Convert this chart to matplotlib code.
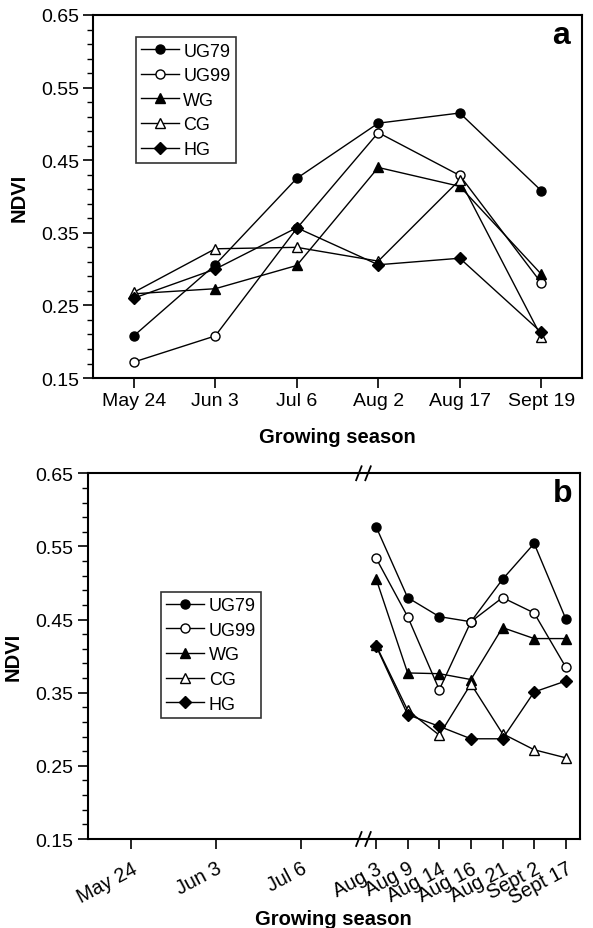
import matplotlib
matplotlib.use('Agg')
import matplotlib.pyplot as plt
from matplotlib.ticker import FixedLocator
import numpy as np

plt.rcParams['font.family'] = ['Liberation Sans', 'DejaVu Sans']

# panel a: six sampling dates
dates_a = ['May 24', 'Jun 3', 'Jul 6', 'Aug 2', 'Aug 17', 'Sept 19']
ug79_a = [0.208, 0.306, 0.425, 0.501, 0.515, 0.408]
ug99_a = [0.172, 0.208, 0.356, 0.488, 0.429, 0.281]
wg_a = [0.266, 0.273, 0.305, 0.440, 0.414, 0.293]
cg_a = [0.268, 0.328, 0.330, 0.311, 0.423, 0.207]
hg_a = [0.260, 0.300, 0.357, 0.306, 0.315, 0.213]

# panel b: early dates have no data, then seven dates after the break
dates_b_early = ['May 24', 'Jun 3', 'Jul 6']
dates_b = ['Aug 3', 'Aug 9', 'Aug 14', 'Aug 16', 'Aug 21', 'Sept 2', 'Sept 17']
ug79_b = [0.577, 0.480, 0.454, 0.447, 0.505, 0.554, 0.451]
ug99_b = [0.534, 0.454, 0.354, 0.447, 0.480, 0.459, 0.385]
wg_b = [0.506, 0.377, 0.376, 0.368, 0.439, 0.424, 0.424]
cg_b = [0.415, 0.326, 0.292, 0.362, 0.294, 0.272, 0.261]
hg_b = [0.414, 0.320, 0.304, 0.287, 0.287, 0.351, 0.366]

labels = ['UG79', 'UG99', 'WG', 'CG', 'HG']
styles = [dict(marker='o', mfc='black'),
          dict(marker='o', mfc='white'),
          dict(marker='^', mfc='black'),
          dict(marker='^', mfc='white'),
          dict(marker='D', mfc='black', markersize=5.8)]


def style_axis(ax):
    ax.set_ylim(0.15, 0.65)
    ax.yaxis.set_major_locator(FixedLocator(np.arange(0.15, 0.66, 0.1)))
    ax.yaxis.set_minor_locator(FixedLocator(np.arange(0.15, 0.651, 0.02)))
    ax.yaxis.set_major_formatter(plt.FormatStrFormatter('%.2f'))
    ax.tick_params(axis='both', which='major', direction='out', length=7,
                   width=1.2, labelsize=14, pad=3)
    ax.tick_params(axis='y', which='minor', direction='out', length=4, width=1)
    for s in ax.spines.values():
        s.set_linewidth(1.5)
    ax.set_ylabel('NDVI', fontsize=14.5, fontweight='bold', labelpad=9)


def draw_series(ax, x, series):
    for vals, lab, st in zip(series, labels, styles):
        kw = dict(color='black', lw=1, markersize=6.5, mec='black', mew=1)
        kw.update(st)
        ax.plot(x, vals, label=lab, **kw)


def add_legend(ax, anchor):
    leg = ax.legend(loc='upper left', bbox_to_anchor=anchor, fontsize=13,
                    frameon=True, fancybox=False, edgecolor='black',
                    borderaxespad=0, handlelength=2.1, handletextpad=0.25,
                    labelspacing=0.42, borderpad=0.3)
    leg.get_frame().set_linewidth(1.2)


fig = plt.figure(figsize=(5.93, 9.29), dpi=100)

# --- panel a ---
ax1 = fig.add_axes([0.1568, 0.592, 0.8247, 0.3908])
xa = np.arange(len(dates_a))
draw_series(ax1, xa, [ug79_a, ug99_a, wg_a, cg_a, hg_a])
ax1.set_xlim(-0.5, 5.5)
ax1.set_xticks(xa)
ax1.set_xticklabels(dates_a)
style_axis(ax1)
ax1.set_xlabel('Growing season', fontsize=14.5, fontweight='bold', labelpad=13)
add_legend(ax1, (0.087, 0.939))
ax1.text(0.958, 0.945, 'a', transform=ax1.transAxes, fontsize=23,
         fontweight='bold', ha='center', va='center')

# --- panel b: broken date axis ---
ax2 = fig.add_axes([0.1476, 0.0958, 0.8297, 0.3937])
x_early = [0, 1, 2]
x_start, x_step = 2.882, 0.372
xb = [x_start + x_step * i for i in range(len(dates_b))]
draw_series(ax2, xb, [ug79_b, ug99_b, wg_b, cg_b, hg_b])
ax2.set_xlim(-0.512, 5.276)
ax2.set_xticks(x_early + xb)
ax2.set_xticklabels(dates_b_early + dates_b, rotation=28, ha='right',
                    rotation_mode='anchor')
style_axis(ax2)
ax2.tick_params(axis='x', labelsize=14.2, pad=7)
ax2.set_xlabel('Growing season', fontsize=14.5, fontweight='bold', labelpad=1)
add_legend(ax2, (0.149, 0.676))
ax2.text(0.965, 0.946, 'b', transform=ax2.transAxes, fontsize=23,
         fontweight='bold', ha='center', va='center')

# "//" break marks on the top and bottom spines
trans = ax2.get_xaxis_transform()
for yb in (0.0, 1.0):
    for xc in (2.68, 2.788):
        ax2.plot([xc - 0.032, xc + 0.032], [yb - 0.019, yb + 0.019],
                 color='black', lw=1.3, transform=trans, clip_on=False,
                 zorder=6)

fig.savefig('out.png', dpi=100)
